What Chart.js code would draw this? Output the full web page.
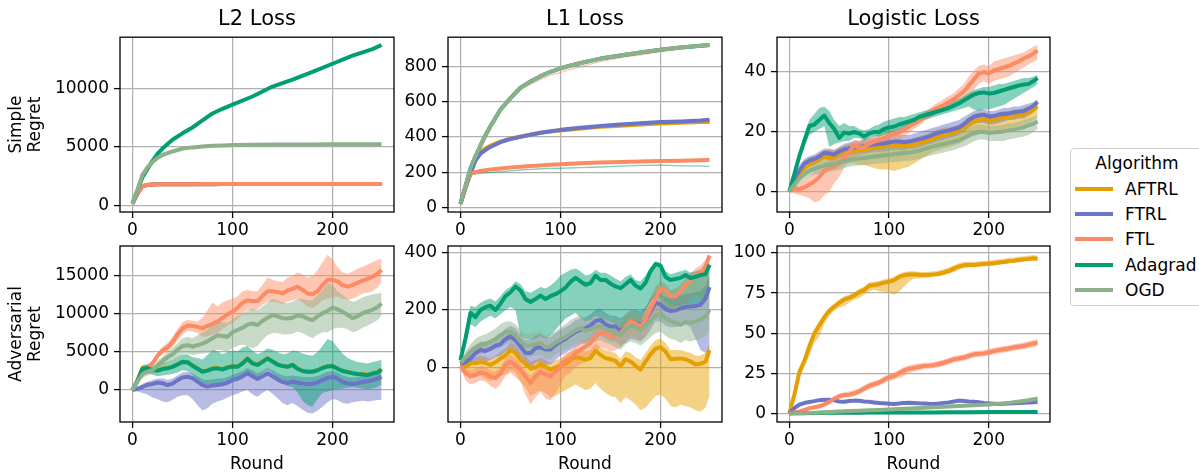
<!DOCTYPE html>
<html>
<head>
<meta charset="utf-8">
<script src="https://cdn.jsdelivr.net/npm/chart.js@4"></script>
<style>
html,body{margin:0;padding:0;background:#fff;}
body{width:1199px;height:472px;overflow:hidden;position:relative;font-family:'DejaVu Sans',sans-serif;}
canvas{position:absolute;}
#legend{position:absolute;left:1070px;top:148px;width:134px;height:158px;border:1px solid #cfcfcf;border-radius:4px;box-sizing:border-box;background:#fff;font-size:17px;color:#000;}
#legend .ttl{position:absolute;left:0;width:132px;top:4px;text-align:center;line-height:20px;}
#legend .item{position:absolute;left:0;height:20px;width:140px;}
#legend .sw{position:absolute;left:4px;top:8px;width:38px;height:4px;}
#legend .lb{position:absolute;left:54px;top:0;line-height:20px;white-space:nowrap;}
</style>
</head>
<body>
<canvas id="c1"></canvas><canvas id="c2"></canvas><canvas id="c3"></canvas>
<canvas id="c4"></canvas><canvas id="c5"></canvas><canvas id="c6"></canvas>
<div id="legend"></div>
<script>
// ---------------- data ----------------
const ALGORITHMS = ['AFTRL', 'FTRL', 'FTL', 'Adagrad', 'OGD'];
const COLORS = ['#E69F00', '#6B74C6', '#FC8A62', '#029E73', '#8BB08A'];
const LEGEND_TITLE = 'Algorithm';
const COL_TITLES = ['L2 Loss', 'L1 Loss', 'Logistic Loss'];
const ROW_TITLES = [['Simple', 'Regret'], ['Adversarial', 'Regret']];
const X_TITLE = 'Round';
const X_TICKS = [0, 100, 200];
const Y_TICKS_L2_SIMPLE = [0, 5000, 10000];
const Y_TICKS_L1_SIMPLE = [0, 200, 400, 600, 800];
const Y_TICKS_LOG_SIMPLE = [0, 20, 40];
const Y_TICKS_L2_ADV = [0, 5000, 10000, 15000];
const Y_TICKS_L1_ADV = [0, 200, 400];
const Y_TICKS_LOG_ADV = [0, 25, 50, 75, 100];

const ROUNDS_FINE = [0,5,10,15,20,25,30,35,40,45,50,55,60,65,70,75,80,85,90,95,100,105,110,115,120,125,130,135,140,145,150,155,160,165,170,175,180,185,190,195,200,205,210,215,220,225,230,235,240,245,249];
const ROUNDS_COARSE = [0,5,10,15,20,25,30,40,50,60,70,80,90,100,120,140,160,180,200,220,240,249];

// L2 loss, simple regret (coarse rounds)
const l2sAFTRL   = [150,1000,1640,1745,1775,1790,1795,1800,1800,1800,1805,1805,1810,1810,1810,1810,1815,1815,1820,1820,1820,1820];
const l2sFTRL    = [150,1000,1640,1740,1770,1790,1795,1800,1800,1800,1805,1805,1810,1810,1810,1810,1815,1815,1815,1815,1815,1815];
const l2sFTL     = [150,1000,1650,1750,1780,1790,1800,1800,1800,1800,1810,1810,1810,1810,1810,1810,1820,1820,1820,1820,1820,1820];
const l2sAdagrad = [150,1300,2400,3100,3800,4400,4850,5600,6150,6650,7250,7850,8250,8600,9300,10150,10750,11400,12100,12800,13350,13700];
const l2sOGD     = [150,1300,2600,3250,3700,4050,4300,4600,4850,4950,5020,5080,5120,5150,5180,5190,5200,5200,5210,5210,5220,5220];

// L1 loss, simple regret (coarse rounds)
const l1sAFTRL   = [20,110,195,275,315,335,350,373,390,402,413,423,430,437,448,457,464,470,476,480,484,485];
const l1sFTRL    = [20,110,190,265,305,325,343,370,388,400,412,424,432,440,452,462,470,478,484,488,493,497];
const l1sFTL     = [20,110,190,200,207,211,215,220,226,230,234,238,242,245,250,255,258,260,263,265,268,270];
const l1sAdagrad = [20,120,220,290,350,410,460,555,620,680,715,745,770,790,820,845,862,880,895,908,918,922];
const l1sOGD     = [20,120,220,290,350,410,460,555,620,680,715,745,770,790,820,845,862,880,895,908,918,922];
const l1sFaintPink  = [20,120,220,290,350,405,455,545,610,668,700,727,750,767,800,828,850,866,884,900,910,915];
const l1sFaintGreen = [20,110,185,190,193,196,198,202,207,212,216,219,221,222,225,229,234,238,240,235,235,232];

// Logistic loss, simple regret (fine rounds)
const lsAFTRL   = [0.3,3.5,6,8,9.5,10,11,11.8,11.5,11.5,12.5,13.2,13.5,13.8,14,14.3,14.6,14.8,15,15.2,15.5,15.6,15.5,15.3,15.5,15.8,16.2,16.8,17.2,18,18.5,19,19.3,19.8,20.3,21.2,22.5,23.5,24,24.2,23.8,24,24.5,24.8,25,25.3,25.6,26,26.5,27.5,28.5];
const lsAFTRLHi = [0.5,5,8,10,11.5,12,13,14,14,14,15,15.5,16,16,16.5,16.5,17,17,17,17.5,17.5,17.5,17.5,17.5,17.5,18,18.5,19,19.5,20.5,21,21.5,21.5,22,22.5,23.5,25,26,26.5,26.5,26,26,26.5,27,27,27.5,27.5,28,28.5,29.5,30];
const lsAFTRLLo = [0,2,4,5.5,6.5,7,8,8.5,8,8,9,9.5,9.5,9.5,9,9,8.5,8,7.5,7.5,7.5,7,7.5,8,8.5,9.5,10.5,11.5,12.5,13.5,14,14.5,15,15.5,16,17,18.5,19.5,20,20,19.5,19.5,20,20.5,21,21.5,22,22.5,23,24,25];
const lsFTRL    = [0.3,4.5,7,9.5,10.5,11,11.8,13,12.8,12.5,13.5,14.2,14.5,14.8,15,15.3,15.6,15.8,16,16.2,16.5,16.8,16.8,16.6,16.8,17.2,17.6,18,18.5,19.2,19.8,20.2,20.5,21,21.5,22.5,24,25,25.5,25.8,25.2,25.3,25.8,26,26.2,26.5,26.8,27,27.8,28.8,30];
const lsFTRLHi  = [0.5,6,9,11,12,12.5,13.5,14.5,14.5,14,15,16,16.5,17,17,17.5,18,18,18.5,18.5,19,19,19,19,19,19.5,20,20.5,21,21.5,22,22.5,23,23.5,24,25,26,27,27.5,27.5,27,27,27.5,28,28,28.5,28.5,29,29.5,30,31];
const lsFTRLLo  = [0,3,5,7.5,8.5,9,10,11,10.5,10.5,11.5,12,12.5,12.5,13,13,13,13.5,13.5,13.5,14,14,14,14,14.5,14.5,15,15.5,16,16.5,17,17.5,18,18.5,19,20,21.5,22.5,23,23,22.5,22.5,23,23.5,24,24,24.5,24.5,25.5,26.5,28];
const lsFTL     = [0.3,1.2,1,1.5,2.5,3.5,5,7,8,8.5,9.5,11.5,13.5,15.5,14.8,15,16,16.8,17.2,18,18.8,19.3,19.8,20.8,21.8,23,24,25,26,27.5,28.2,29,30,31,32.2,33.5,35.5,37.5,39.5,40,39.5,40.5,41,41.5,42,42.8,43.5,44.5,45.2,46.2,47.2];
const lsFTLHi   = [0.5,2.5,3,4,5,7,8,9.5,10.5,11,12,14,16,17.5,17,17.5,18,18.8,19.5,20,20.5,21,21.5,22.5,23.5,24.5,25.5,26.5,27.5,29,30,31,32,33,34.5,36,38.5,40.5,42,42.5,42,43.5,44,44.5,45,45.5,46,46.5,47.5,48.5,49];
const lsFTLLo   = [0,-0.5,-1,-1.5,-2,-3.5,-3,-1,0,3,5,8,10,12,12,12.5,13.5,14.5,15,15.5,16.5,17,17.5,18.5,19.5,21,22,23.5,24.5,25.5,26.5,27,28,28.5,29.5,30.5,32,34,36,37,36,37,37.5,38,38.5,39.5,40.5,41.5,42.5,43.5,44];
const lsAdagrad   = [0.2,6,12,17,22,22.5,24,25.5,23,21,18,19.8,19.5,20,19.5,18.5,19.5,20,20,21,21.5,21.8,22.5,23,23.5,24,25,25.5,26,26.5,27,27.5,28,28.8,29.5,30.5,31.5,32.5,33,33.2,32.8,33,33.5,34,34.5,35,35.5,35.8,36,37,38];
const lsAdagradHi = [0.5,8,14,19,24,26,28,28.5,27,24,22,23,22,22,21,20.5,21,22,22.5,23.5,24,24.5,25,25,25.5,26,26.5,27,27.5,28,28.5,29,29.5,30.5,31,32,33,34,34.5,35,35,35.5,36,36,36.5,37,37.5,38,38,38.5,39];
const lsAdagradLo = [0,4,10,15,19,20,21,22,15,16,16.5,17,17,18,18,17,18,18.5,18.5,19,19.5,20,20.5,21,21.5,22,23,24,24.5,25,25.5,26,26.5,27,27.5,28,28.5,27.5,27,27.5,27.5,28,28.5,29,30,31,32,33,34,35,36];
const lsOGD     = [0.3,2.5,4.5,6,7,7.8,8.3,8.8,9,9.3,9.7,10.3,10.7,11,11.2,11.3,11.6,11.8,12,12.2,12.4,12.6,12.8,13,13.2,13.4,13.8,14.3,14.8,15.2,15.6,16,16.4,16.8,17.3,18,18.8,19.5,20,20,19.7,19.8,20,20.2,20.5,20.8,21.2,21.6,22.2,22.8,23.5];
const lsOGDHi   = [0.5,4,6,8,9,9.8,10.5,11,11.2,11.5,12,12.5,13,13.3,13.5,13.6,14,14.2,14.5,14.7,15,15.2,15.5,15.7,16,16.2,16.6,17,17.5,18,18.4,18.8,19.2,19.6,20,20.8,21.5,22.2,22.5,22.5,22,22,22.2,22.5,22.8,23,23.5,24,24.5,25,25.5];
const lsOGDLo   = [0,1,3,4,5,5.8,6,6.5,6.8,7,7.4,8,8.4,8.7,8.9,9,9.2,9.4,9.5,9.7,9.8,10,10.1,10.3,10.4,10.6,11,11.6,12,12.4,12.8,13.2,13.6,14,14.6,15.2,16,16.8,17.5,17.5,17,17,17,17,17.5,17.8,18.2,18.5,19,20,21];

// L2 loss, adversarial regret (fine rounds)
const l2aAFTRL    = [0,1250,2900,2950,2650,2600,2800,2900,3100,3400,3750,3700,3250,2850,2450,2600,2850,2900,2750,3000,3150,3100,3550,4150,3550,3350,3750,4200,3800,3400,3200,3100,3350,2850,2550,2450,2450,2650,2950,3150,3200,2850,2550,2400,2250,2150,2100,2000,2200,2350,2750];
const l2aFTRL     = [0,150,400,700,800,1000,900,650,850,1300,1650,1750,1550,1100,650,450,600,650,750,950,1300,1500,1800,2200,1800,1450,1800,2200,1800,1400,1050,900,1100,950,850,800,800,1000,1300,1600,1750,1500,1050,850,800,900,1050,1150,1300,1500,1750];
const l2aFTRLHi   = [0,400,800,1100,1300,1500,1500,1300,1500,1900,2300,2400,2200,1800,1400,1300,1400,1500,1500,1700,2000,2200,2500,2900,2600,2200,2500,2900,2600,2200,1900,1800,1900,1800,1700,1700,1700,1800,2100,2400,2500,2300,1900,1700,1600,1700,1800,1900,2000,2200,2400];
const l2aFTRLLo   = [0,-200,-400,-600,-1000,-1200,-1500,-1600,-1300,-900,-700,-700,-1200,-2000,-2700,-2400,-1800,-1500,-1300,-1000,-700,-500,-200,0,-600,-900,-400,0,-500,-1100,-1700,-2000,-1700,-2100,-2600,-3000,-3100,-2700,-2200,-1600,-1200,-1300,-1700,-1800,-1600,-1500,-1400,-1500,-1400,-1300,-1300];
const l2aFTL      = [0,1200,2700,3000,3500,4500,5200,5600,6300,7300,8100,8500,8450,8300,8100,8450,8700,9000,9500,9950,10300,10800,11500,11800,11700,11700,12400,13000,13000,12900,12700,13100,13300,13600,13200,12700,12600,13000,13800,14500,14500,14300,13800,13600,13800,14100,14400,14600,14900,15300,15800];
const l2aFTLHi    = [0,1500,3200,3300,3800,4900,5700,6200,7000,8000,8900,9200,9100,9000,9500,10500,11500,11000,11500,11800,12000,12300,13000,13200,13000,13000,13800,14800,14500,14300,14200,14800,15000,15500,15200,14800,15000,15800,16800,17800,17200,16200,15500,15300,15600,16000,16200,16500,16800,17100,17300];
const l2aFTLLo    = [0,900,2200,2700,3200,4100,4700,5000,5600,6500,7300,7800,7700,7500,7000,7000,7300,7500,8000,8500,8800,9300,10000,10500,10500,10600,11200,11600,11600,11500,11300,11600,11800,12000,11500,11000,10800,11200,11800,12000,12200,12300,12000,11900,12000,12300,12700,12800,13000,13500,14200];
const l2aAdagrad  = [0,1200,2800,2900,2600,2550,2750,2850,3050,3350,3700,3650,3200,2800,2400,2550,2800,2850,2700,2950,3100,3050,3500,4100,3500,3300,3700,4150,3750,3350,3150,3050,3300,2800,2500,2400,2400,2600,2900,3100,3150,2800,2500,2350,2200,2100,2050,1950,2150,2300,2700];
const l2aAdagradHi= [0,1600,3300,3400,3200,3300,3600,3700,4000,4400,4700,4700,4300,4200,4000,4600,5300,5100,4700,5000,5200,5100,5600,5800,5200,4700,5000,5500,5300,5000,4700,4800,5200,5100,4800,4600,4500,5000,5800,6700,6400,5600,4800,4200,3900,3700,3600,3500,3700,3800,4000];
const l2aAdagradLo= [0,800,2200,2300,2000,1800,1900,2000,2100,2300,2600,2500,2000,1200,800,800,700,800,900,1100,1300,1200,1500,2300,1800,1600,2200,2700,2200,1500,1000,500,400,-300,-1400,-2000,-2200,-1200,-400,-200,0,100,200,300,400,300,200,100,200,400,700];
const l2aOGD      = [0,1100,2100,2400,2600,3200,3800,4300,4700,5300,5800,5900,5700,5900,6100,6400,6800,7200,7100,7000,7600,7900,8200,8600,8750,8550,9100,9500,9850,9700,9450,9400,9500,9800,9700,9400,9200,9700,10100,10400,10850,10600,10300,9900,9450,9700,10100,10350,10550,10900,11400];
const l2aOGDHi    = [0,1400,2600,2900,3100,3800,4400,5000,5500,6200,6800,7000,6800,7200,7600,8000,8800,9200,8900,8800,9300,9700,10000,10400,10700,10500,11000,11500,12000,11800,11500,11400,11600,12000,12000,11800,11800,12500,13200,14000,13800,13000,12500,12000,11600,11800,12200,12400,12600,12700,12800];
const l2aOGDLo    = [0,800,1600,1900,2100,2600,3200,3600,4000,4400,4800,4800,4600,4700,4800,4900,5000,5300,5200,5000,5500,5800,6000,5800,5500,5800,6600,7200,7500,7500,7300,7300,7400,7700,7500,7100,6800,7300,7600,7600,8000,8200,8200,8000,7600,7800,8200,8500,8800,9200,9800];

// L1 loss, adversarial regret (fine rounds)
const l1aAFTRL    = [8,2,14,14,18,15,8,18,30,42,60,50,26,14,-5,0,12,2,-8,0,6,12,26,36,32,26,32,58,43,32,28,22,3,28,20,5,-8,20,45,65,70,55,28,30,31,28,20,10,12,20,60];
const l1aAFTRLHi  = [12,20,35,35,40,38,30,40,55,65,85,75,50,40,20,25,35,25,15,25,30,40,55,65,60,55,60,85,70,60,55,50,30,55,50,35,25,50,75,95,100,85,60,60,60,55,50,40,40,50,85];
const l1aAFTRLLo  = [4,-30,-25,-30,-30,-40,-50,-40,-30,-25,-10,-20,-50,-70,-100,-90,-80,-90,-105,-100,-90,-80,-70,-60,-70,-80,-75,-55,-75,-90,-100,-105,-125,-105,-115,-130,-150,-140,-120,-100,-95,-110,-135,-140,-130,-135,-140,-150,-155,-140,-100];
const l1aFTRL     = [10,18,30,50,60,57,65,75,80,98,108,95,72,50,50,67,70,62,62,78,90,99,112,123,131,136,146,162,165,150,142,142,128,142,158,155,149,165,195,225,220,203,196,198,206,211,212,214,218,240,280];
const l1aFTRLHi   = [15,35,55,75,90,90,95,105,115,135,145,135,115,95,95,110,115,105,105,120,130,140,150,165,170,175,185,200,205,190,180,180,170,185,200,200,195,210,240,260,255,245,240,245,250,255,258,262,265,285,320];
const l1aFTRLLo   = [5,0,5,20,25,20,25,35,40,55,65,50,25,0,-5,15,20,10,10,25,40,50,60,70,80,85,95,110,115,100,90,90,75,85,100,95,90,105,130,160,160,145,140,140,145,150,140,100,60,50,60];
const l1aFTL      = [5,-20,-32,-27,-18,-22,-32,-38,-21,8,20,8,-9,-32,-55,-32,-15,-26,-32,-15,2,26,31,49,61,72,84,105,122,118,107,110,119,142,160,154,142,166,205,240,275,268,247,247,264,288,305,322,330,352,390];
const l1aFTLHi    = [10,0,-10,-5,5,0,-10,-15,0,30,45,30,15,-10,-30,-10,5,-5,-10,5,25,50,55,75,90,100,115,135,150,145,135,140,150,175,195,190,180,205,245,280,300,290,270,275,290,310,330,345,355,375,400];
const l1aFTLLo    = [0,-45,-60,-55,-45,-50,-65,-75,-60,-30,-20,-35,-50,-95,-130,-105,-85,-110,-115,-90,-60,-30,-20,0,10,20,30,50,70,65,55,60,70,90,110,105,95,110,150,180,220,210,190,190,205,220,235,250,240,230,250];
const l1aAdagrad  = [25,100,190,175,200,210,215,200,222,248,262,282,268,238,228,238,250,238,248,255,265,278,298,312,300,288,294,320,305,305,292,282,276,290,305,285,275,295,335,360,355,315,305,308,312,322,311,316,322,325,358];
const l1aAdagradHi= [30,130,215,210,225,235,240,230,250,270,280,300,290,265,260,270,280,275,285,300,320,330,340,345,335,320,325,340,330,330,320,310,300,315,325,305,300,320,350,370,365,335,325,330,335,340,330,335,340,345,370];
const l1aAdagradLo= [20,70,150,140,160,170,180,170,185,200,210,200,110,100,95,100,110,100,110,130,150,170,180,190,170,160,165,180,170,165,160,150,140,150,160,150,160,200,230,250,240,210,200,210,215,220,215,220,225,230,260];
const l1aOGD      = [15,35,55,70,77,82,90,99,112,122,123,112,90,75,76,81,84,70,73,85,96,105,118,129,137,127,133,140,142,133,128,120,113,133,145,140,131,145,162,180,188,170,162,155,148,158,155,160,166,178,200];
const l1aOGDHi    = [20,55,80,100,110,115,125,135,150,160,160,150,130,115,115,120,125,110,115,125,140,150,165,175,180,170,175,185,190,180,175,170,165,185,200,195,185,200,220,240,250,230,220,215,210,220,220,225,230,240,260];
const l1aOGDLo    = [10,15,30,40,45,50,55,60,70,80,85,75,50,35,35,40,45,30,30,45,55,60,70,80,90,80,85,90,95,85,80,70,60,80,90,85,75,90,105,120,125,110,100,95,85,95,90,95,100,110,130];

// Logistic loss, adversarial regret
const laAFTRL    = [0.5,12,26,33,42,50,55,60,64,66.5,69,71,72,73.5,75.5,77,79.5,80,80.5,81.5,82,83,85,86,86.5,86.6,86.3,86.2,86.3,86.6,87,87.8,88.8,90.2,91.5,92.2,92.4,92.4,92.7,93,93.2,93.5,94,94.3,94.8,95.1,95.5,95.9,96.2,96.6,96.2];
const laAFTRLHi  = [1,14,28.5,35,44,52,57.5,62,66,68.5,71,73,74,75.5,77.5,79,81.5,82,82.5,83.5,84,85,87,88,88.5,88.5,88.3,88,88.3,88.5,89,89.8,90.8,92.2,93.5,94.2,94.4,94.4,94.7,95,95.2,95.5,96,96.3,96.8,97.1,97.5,97.9,98.2,98.6,98.2];
const laAFTRLLo  = [0,9,22,29,36,44,48,56,61,64,66,67,69,71,72,74,76,77,76,76,75,74,76,79,82,84,84,84.5,84.5,85,85.5,86,87,88,89.5,90.5,91,91,91.5,91.5,92,92,92.5,93,93.5,94,94,94.5,95,95,95];
const laFTRL     = [0.5,3.6,5.8,6.8,7.5,8,8.6,8.8,8.8,8.5,7.8,7.6,8,8.3,8.2,7.8,7.6,7.2,6.8,6.6,6.4,6.2,6.5,6.9,7,6.8,6.6,6.5,6.3,6.2,6.5,6.9,7.2,7.8,8.3,8.1,7.8,7.6,7.3,6.9,6.6,6.4,6.2,6.3,6.5,6.6,6.8,7,7.1,7.3,7.6];
const laFTL      = [0.5,1,1.6,2.5,3.5,4.2,4.8,6,7.5,9.5,11,11.8,12,12.8,14,15.8,17.4,18.5,19.5,21.3,22.8,23.6,25.3,27,28,28.6,29.2,29.8,30,30.3,31,31.8,32.8,33.9,34.4,35,36,37,37.3,37.6,38.3,39,39.6,40.1,40.6,41.2,41.7,42.2,43,43.7,44.3];
const laFTLHi    = [0.8,1.8,2.5,3.5,4.5,5.3,6,7.3,9,11,12.5,13.5,14,14.8,16,17.8,19.5,20.5,21.5,23.3,24.8,25.8,27.5,29.2,30.2,30.8,31.3,31.8,32,32.3,33,33.8,34.8,35.9,36.4,37,38,39,39.3,39.6,40.3,41,41.6,42.1,42.6,43.2,43.8,44.4,45.2,45.9,46.5];
const laFTLLo    = [0.2,0.3,0.8,1.5,2.5,3,3.6,4.7,6,8,9.5,10.2,10.3,11,12.2,13.8,15.3,16.5,17.5,19,20.5,21.2,22.3,23.8,25.5,26.3,27.2,27.8,28,28.3,29,29.8,30.8,31.9,32.4,33,34,35,35.3,35.6,36.3,37,37.6,38.1,38.6,39.2,39.7,40.2,41,41.6,42.2];
const laAdagrad  = [0.3,0.4,0.5,0.5,0.6,0.6,0.6,0.7,0.7,0.8,0.8,0.9,0.9,0.9,1.0,1.0,1.1,1.1,1.2,1.2,1.2,1.3];
const laOGD      = [0.3,0.4,0.5,0.6,0.7,0.8,0.9,1.2,1.5,1.8,2.0,2.3,2.5,2.8,3.4,4.0,4.6,5.2,5.9,6.9,8.5,9.6];

// ---------------- panels ----------------
const F = ROUNDS_FINE, C = ROUNDS_COARSE;
const PANELS = [
  { id: 'c1', row: 0, col: 0, yMin: -573, yMax: 14368, yTicks: Y_TICKS_L2_SIMPLE, series: [
    { a: 0, x: C, m: l2sAFTRL }, { a: 1, x: C, m: l2sFTRL }, { a: 2, x: C, m: l2sFTL },
    { a: 3, x: C, m: l2sAdagrad }, { a: 4, x: C, m: l2sOGD } ] },
  { id: 'c2', row: 0, col: 1, yMin: -26.7, yMax: 966.5, yTicks: Y_TICKS_L1_SIMPLE, series: [
    { a: 0, x: C, m: l1sAFTRL }, { a: 1, x: C, m: l1sFTRL }, { a: 2, x: C, m: l1sFTL, faint: l1sFaintPink },
    { a: 3, x: C, m: l1sAdagrad, faint: l1sFaintGreen }, { a: 4, x: C, m: l1sOGD } ] },
  { id: 'c3', row: 0, col: 2, yMin: -6.67, yMax: 51.6, yTicks: Y_TICKS_LOG_SIMPLE, series: [
    { a: 0, x: F, m: lsAFTRL, lo: lsAFTRLLo, hi: lsAFTRLHi }, { a: 1, x: F, m: lsFTRL, lo: lsFTRLLo, hi: lsFTRLHi },
    { a: 2, x: F, m: lsFTL, lo: lsFTLLo, hi: lsFTLHi }, { a: 3, x: F, m: lsAdagrad, lo: lsAdagradLo, hi: lsAdagradHi },
    { a: 4, x: F, m: lsOGD, lo: lsOGDLo, hi: lsOGDHi } ] },
  { id: 'c4', row: 1, col: 0, yMin: -4210, yMax: 18947, yTicks: Y_TICKS_L2_ADV, series: [
    { a: 0, x: F, m: l2aAFTRL }, { a: 1, x: F, m: l2aFTRL, lo: l2aFTRLLo, hi: l2aFTRLHi },
    { a: 2, x: F, m: l2aFTL, lo: l2aFTLLo, hi: l2aFTLHi }, { a: 3, x: F, m: l2aAdagrad, lo: l2aAdagradLo, hi: l2aAdagradHi },
    { a: 4, x: F, m: l2aOGD, lo: l2aOGDLo, hi: l2aOGDHi } ] },
  { id: 'c5', row: 1, col: 1, yMin: -191, yMax: 423.3, yTicks: Y_TICKS_L1_ADV, series: [
    { a: 0, x: F, m: l1aAFTRL, lo: l1aAFTRLLo, hi: l1aAFTRLHi }, { a: 1, x: F, m: l1aFTRL, lo: l1aFTRLLo, hi: l1aFTRLHi },
    { a: 2, x: F, m: l1aFTL, lo: l1aFTLLo, hi: l1aFTLHi }, { a: 3, x: F, m: l1aAdagrad, lo: l1aAdagradLo, hi: l1aAdagradHi },
    { a: 4, x: F, m: l1aOGD, lo: l1aOGDLo, hi: l1aOGDHi } ] },
  { id: 'c6', row: 1, col: 2, yMin: -4.96, yMax: 104.2, yTicks: Y_TICKS_LOG_ADV, series: [
    { a: 0, x: F, m: laAFTRL, lo: laAFTRLLo, hi: laAFTRLHi }, { a: 1, x: F, m: laFTRL },
    { a: 2, x: F, m: laFTL, lo: laFTLLo, hi: laFTLHi }, { a: 3, x: C, m: laAdagrad },
    { a: 4, x: C, m: laOGD } ] }
];

// ---------------- layout geometry (canvas placement only) ----------------
const COL_GEOM = [ { left: 0, w: 400, yw: 120 }, { left: 398, w: 330, yw: 50 }, { left: 727, w: 329, yw: 50 } ];
const ROW_GEOM = [ { top: 0, h: 242, xh: 30, padTop: 0 }, { top: 230, h: 250, xh: 58, padTop: 16 } ];

Chart.defaults.font.family = "'DejaVu Sans', sans-serif";
Chart.defaults.color = '#000';

function rgba(hex, a) {
  const n = parseInt(hex.slice(1), 16);
  return 'rgba(' + (n >> 16) + ',' + ((n >> 8) & 255) + ',' + (n & 255) + ',' + a + ')';
}
function pts(xs, ys) { return ys.map((y, i) => ({ x: xs[i], y: y })); }

function buildDatasets(series) {
  const ds = [];
  series.forEach(s => {
    if (s.lo && s.hi) {
      const loIdx = ds.length;
      ds.push({ data: pts(s.x, s.lo), borderWidth: 0, borderColor: 'rgba(0,0,0,0)', pointRadius: 0, fill: false });
      ds.push({ data: pts(s.x, s.hi), borderWidth: 0, borderColor: 'rgba(0,0,0,0)', pointRadius: 0,
                fill: { target: loIdx }, backgroundColor: rgba(COLORS[s.a], 0.48) });
    }
  });
  series.forEach(s => {
    if (s.faint) ds.push({ data: pts(s.x, s.faint), borderWidth: 1.3, borderColor: rgba(COLORS[s.a], 0.5), pointRadius: 0, fill: false });
  });
  series.forEach(s => {
    ds.push({ label: ALGORITHMS[s.a], data: pts(s.x, s.m), borderColor: COLORS[s.a], borderWidth: 4,
              pointRadius: 0, fill: false, borderJoinStyle: 'round', borderCapStyle: 'butt' });
  });
  const n = ds.length;
  ds.forEach((d, i) => { d.order = n - i; });
  return ds;
}

const framePlugin = {
  id: 'frame',
  afterDraw(chart) {
    const { left, top, right, bottom } = chart.chartArea;
    const ctx = chart.ctx;
    ctx.save();
    ctx.strokeStyle = '#000';
    ctx.lineWidth = 1.3;
    ctx.strokeRect(left, top, right - left, bottom - top);
    ctx.restore();
  }
};

PANELS.forEach(p => {
  const cg = COL_GEOM[p.col], rg = ROW_GEOM[p.row];
  const cv = document.getElementById(p.id);
  cv.width = cg.w; cv.height = rg.h;
  cv.style.left = cg.left + 'px'; cv.style.top = rg.top + 'px';
  cv.style.width = cg.w + 'px'; cv.style.height = rg.h + 'px';
  const tickFont = { size: 17 };
  new Chart(cv, {
    type: 'line',
    data: { datasets: buildDatasets(p.series) },
    options: {
      responsive: false, animation: false, devicePixelRatio: 1,
      layout: { padding: { left: 0, right: 6, top: rg.padTop, bottom: 0 } },
      elements: { line: { tension: 0 }, point: { radius: 0 } },
      plugins: {
        legend: { display: false }, tooltip: { enabled: false },
        title: { display: p.row === 0, fullSize: false, text: COL_TITLES[p.col], font: { size: 21, weight: 'normal' },
                 color: '#000', padding: { top: 7, bottom: 5 } }
      },
      scales: {
        x: {
          type: 'linear', min: -12.45, max: 261.45,
          afterBuildTicks: ax => { ax.ticks = X_TICKS.map(v => ({ value: v })); },
          afterFit: sc => { sc.height = rg.xh; },
          ticks: { font: tickFont, color: '#000', padding: 2, maxRotation: 0, autoSkip: false, callback: v => String(v) },
          grid: { color: '#b0b0b0', lineWidth: 1.2, drawTicks: true, tickLength: 6, tickColor: '#000', tickWidth: 1.3 },
          border: { display: false },
          title: { display: p.row === 1, text: X_TITLE, font: { size: 17 }, color: '#000', padding: { top: 0, bottom: 5 } }
        },
        y: {
          type: 'linear', min: p.yMin, max: p.yMax,
          afterBuildTicks: ax => { ax.ticks = p.yTicks.map(v => ({ value: v })); },
          afterFit: sc => { sc.width = cg.yw; },
          ticks: { font: tickFont, color: '#000', padding: 5, autoSkip: false, callback: v => String(v) },
          grid: { color: '#b0b0b0', lineWidth: 1.2, drawTicks: true, tickLength: 6, tickColor: '#000', tickWidth: 1.3 },
          border: { display: false },
          title: { display: p.col === 0, text: ROW_TITLES[p.row], font: { size: 17, lineHeight: 1.15 }, color: '#000',
                   padding: { top: 6.7, bottom: 0 } }
        }
      }
    },
    plugins: [framePlugin]
  });
});

// ---------------- legend ----------------
const leg = document.getElementById('legend');
const t = document.createElement('div'); t.className = 'ttl'; t.textContent = LEGEND_TITLE; leg.appendChild(t);
ALGORITHMS.forEach((name, i) => {
  const it = document.createElement('div'); it.className = 'item'; it.style.top = (30 + i * 25.2) + 'px';
  const sw = document.createElement('div'); sw.className = 'sw'; sw.style.background = COLORS[i];
  const lb = document.createElement('div'); lb.className = 'lb'; lb.textContent = name;
  it.appendChild(sw); it.appendChild(lb); leg.appendChild(it);
});
</script>
</body>
</html>
